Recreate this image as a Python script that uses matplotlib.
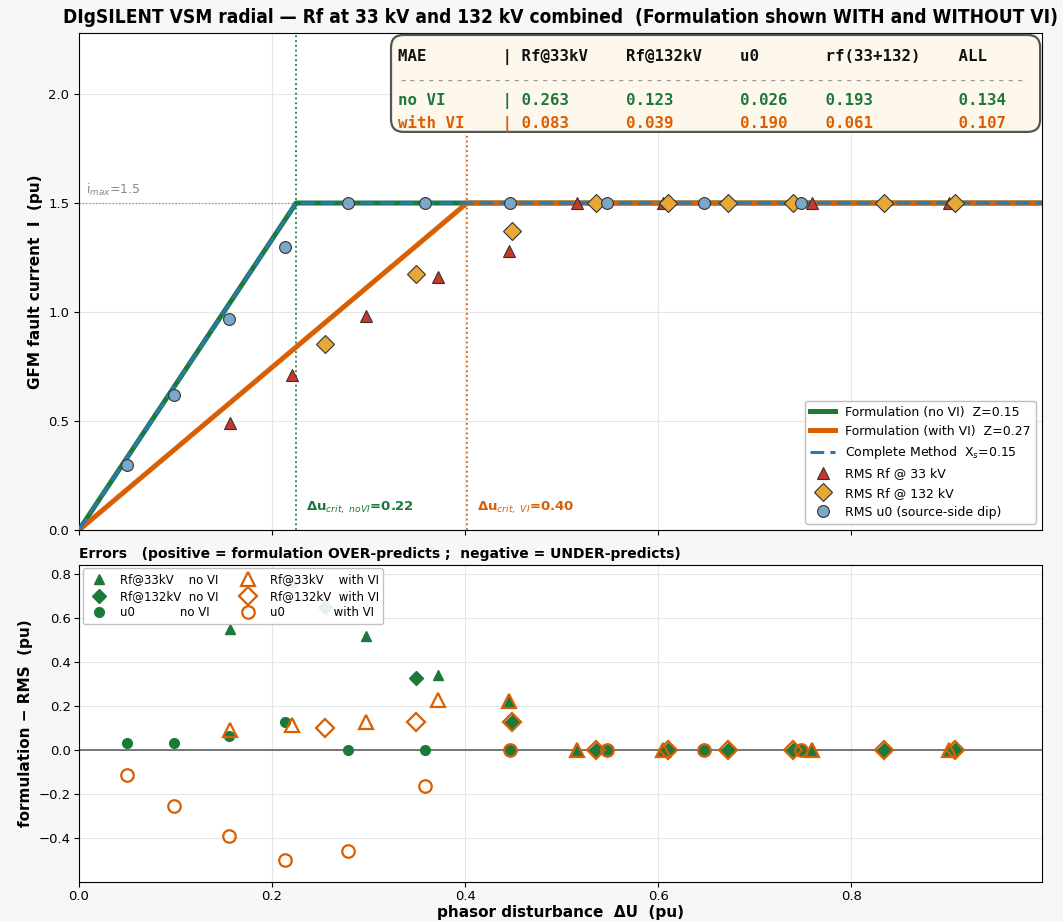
import numpy as np
import matplotlib.pyplot as plt
from matplotlib.patches import FancyBboxPatch

# Formulation parameters
I_MAX = 1.5
Z_NOVI = 0.15
Z_VI = 0.268
XS_COMPLETE = 0.15

# RMS results (disturbance dU, GFM current I)
du_33 = [0.156, 0.221, 0.297, 0.372, 0.445, 0.516, 0.605, 0.759, 0.901]
i_33 = [0.49, 0.712, 0.982, 1.162, 1.28, 1.50, 1.50, 1.50, 1.50]
du_132 = [0.255, 0.349, 0.449, 0.536, 0.610, 0.672, 0.740, 0.834, 0.907]
i_132 = [0.853, 1.174, 1.373, 1.50, 1.50, 1.50, 1.50, 1.50, 1.50]
du_u0 = [0.050, 0.098, 0.155, 0.2135, 0.279, 0.358, 0.447, 0.547, 0.647, 0.748]
i_u0 = [0.300, 0.620, 0.970, 1.297, 1.50, 1.50, 1.50, 1.50, 1.50, 1.50]

# MAE summary
mae_cols = ['Rf@33kV', 'Rf@132kV', 'u0', 'rf(33+132)', 'ALL']
mae_novi = [0.263, 0.123, 0.026, 0.193, 0.134]
mae_vi = [0.083, 0.039, 0.190, 0.061, 0.107]

GREEN = '#1b7a3a'
ORANGE = '#d95f02'
BLUE = '#2a78b0'
RED = '#c8372d'
GOLD = '#e8a838'
STEEL = '#7aa6c8'


def formulation(du, z):
    return np.minimum(np.asarray(du, dtype=float) / z, I_MAX)


xmax = 1.1 * max(du_132)

fig = plt.figure(figsize=(10.63, 9.21), dpi=100, facecolor='#f7f7f7')
ax1 = fig.add_axes([0.0743, 0.4245, 0.906, 0.5397])
ax2 = fig.add_axes([0.0743, 0.0424, 0.906, 0.3442], sharex=ax1)

# ---------------- top panel ----------------
x_nv = np.array([0.0, Z_NOVI * I_MAX, xmax])
x_v = np.array([0.0, Z_VI * I_MAX, xmax])
x_c = np.array([0.0, XS_COMPLETE * I_MAX, xmax])

ax1.axhline(I_MAX, color='#888888', lw=0.9, ls=':', zorder=1)
ax1.plot(x_nv, formulation(x_nv, Z_NOVI), color=GREEN, lw=3.6,
         label=f'Formulation (no VI)  Z={Z_NOVI:.2f}', zorder=3)
ax1.plot(x_v, formulation(x_v, Z_VI), color=ORANGE, lw=3.6,
         label=f'Formulation (with VI)  Z={Z_VI:.2f}', zorder=3)
ax1.plot(x_c, formulation(x_c, XS_COMPLETE), color=BLUE, lw=2.2,
         ls=(0, (4.5, 2.0)), label=f'Complete Method  X$_s$={XS_COMPLETE:.2f}', zorder=4)

ax1.plot(du_33, i_33, '^', ms=9, color=RED, mec='#333333', mew=0.8,
         ls='none', label='RMS Rf @ 33 kV', zorder=5)
ax1.plot(du_132, i_132, 'D', ms=9, color=GOLD, mec='#333333', mew=0.8,
         ls='none', label='RMS Rf @ 132 kV', zorder=5)
ax1.plot(du_u0, i_u0, 'o', ms=8.5, color=STEEL, mec='#333333', mew=0.8,
         ls='none', label='RMS u0 (source-side dip)', zorder=5)

crit_nv = Z_NOVI * I_MAX
crit_v = Z_VI * I_MAX
ax1.axvline(crit_nv, color=GREEN, lw=1.3, ls=':', zorder=2)
ax1.axvline(crit_v, color=ORANGE, lw=1.3, ls=':', zorder=2)
ax1.text(crit_nv + 0.01, 0.10, f'Δu$_{{crit,\\ noVI}}$={crit_nv:.2f}', color=GREEN,
         fontsize=9.5, fontweight='bold', va='center')
ax1.text(crit_v + 0.01, 0.10, f'Δu$_{{crit,\\ VI}}$={crit_v:.2f}', color=ORANGE,
         fontsize=9.5, fontweight='bold', va='center')
ax1.text(0.007, I_MAX + 0.025, f'i$_{{max}}$={I_MAX}', color='#888888', fontsize=9, va='bottom')

ax1.set_xlim(0, xmax)
ax1.set_ylim(0, 2.28)
ax1.set_yticks([0.0, 0.5, 1.0, 1.5, 2.0])
ax1.set_ylabel('GFM fault current  I  (pu)', fontsize=11, fontweight='bold')
ax1.set_title('DIgSILENT VSM radial — Rf at 33 kV and 132 kV combined  '
              '(Formulation shown WITH and WITHOUT VI)',
              fontsize=13.7, fontweight='bold', pad=7, fontstretch='condensed')
ax1.grid(True, color='#e6e6e6', lw=0.8)
ax1.set_axisbelow(True)
ax1.tick_params(labelbottom=False, labelsize=9.5)
ax1.legend(loc='lower right', fontsize=9, framealpha=0.95, edgecolor='#bbbbbb')

# MAE table box
box = FancyBboxPatch((0.324, 0.801), 0.674, 0.195, transform=ax1.transAxes,
                     boxstyle='round,pad=0,rounding_size=0.013', mutation_aspect=1.94,
                     fc='#fdf7ec', ec='#555555', lw=1.6, zorder=6)
ax1.add_patch(box)
widths = [11, 12, 9, 14, 3]
header = f"{'MAE':<11}| " + ''.join(c.ljust(w) for c, w in zip(mae_cols, widths))
row_nv = f"{'no VI':<11}| " + ''.join(f'{v:.3f}'.ljust(w) for v, w in zip(mae_novi, widths))
row_v = f"{'with VI':<11}| " + ''.join(f'{v:.3f}'.ljust(w) for v, w in zip(mae_vi, widths))
tx = 0.331
mono = dict(family='DejaVu Sans Mono', fontsize=11.3, fontweight='bold',
            va='center', ha='left', transform=ax1.transAxes, zorder=7)
ax1.text(tx, 0.952, header, color='#111111', **mono)
ax1.text(tx, 0.905, '-' * 66, color='#9a9a9a', family='DejaVu Sans Mono', fontsize=11.3,
         va='center', ha='left', transform=ax1.transAxes, zorder=7)
ax1.text(tx, 0.863, row_nv, color=GREEN, **mono)
ax1.text(tx, 0.817, row_v, color=ORANGE, **mono)

# ---------------- bottom panel: errors ----------------
err_33_nv = formulation(du_33, Z_NOVI) - np.array(i_33)
err_132_nv = formulation(du_132, Z_NOVI) - np.array(i_132)
err_u0_nv = formulation(du_u0, Z_NOVI) - np.array(i_u0)
err_33_v = formulation(du_33, Z_VI) - np.array(i_33)
err_132_v = formulation(du_132, Z_VI) - np.array(i_132)
err_u0_v = formulation(du_u0, Z_VI) - np.array(i_u0)

ax2.axhline(0, color='#555555', lw=1.1, zorder=1)
h1, = ax2.plot(du_33, err_33_nv, '^', ms=7.5, color=GREEN, ls='none',
               label='Rf@33kV    no VI', zorder=3)
h2, = ax2.plot(du_132, err_132_nv, 'D', ms=7.5, color=GREEN, ls='none',
               label='Rf@132kV  no VI', zorder=3)
h3, = ax2.plot(du_u0, err_u0_nv, 'o', ms=7, color=GREEN, ls='none',
               label='u0            no VI', zorder=3)
h4, = ax2.plot(du_33, err_33_v, '^', ms=10, mfc='none', mec=ORANGE, mew=1.6, ls='none',
               label='Rf@33kV    with VI', zorder=4)
h5, = ax2.plot(du_132, err_132_v, 'D', ms=9, mfc='none', mec=ORANGE, mew=1.6, ls='none',
               label='Rf@132kV  with VI', zorder=4)
h6, = ax2.plot(du_u0, err_u0_v, 'o', ms=9, mfc='none', mec=ORANGE, mew=1.6, ls='none',
               label='u0             with VI', zorder=4)

ax2.set_ylim(-0.6, 0.84)
ax2.set_yticks([-0.4, -0.2, 0.0, 0.2, 0.4, 0.6, 0.8])
ax2.set_xticks([0.0, 0.2, 0.4, 0.6, 0.8])
ax2.set_xlabel('phasor disturbance  ΔU  (pu)', fontsize=11, fontweight='bold', labelpad=1)
ax2.set_ylabel('formulation − RMS  (pu)', fontsize=11, fontweight='bold')
ax2.set_title('Errors   (positive = formulation OVER-predicts ;  negative = UNDER-predicts)',
              loc='left', fontsize=10, fontweight='bold', pad=5)
ax2.grid(True, color='#e6e6e6', lw=0.8)
ax2.set_axisbelow(True)
ax2.tick_params(labelsize=9.5, pad=2.5)
ax2.legend(handles=[h1, h2, h3, h4, h5, h6], loc='upper left', ncol=2, fontsize=8.5,
           framealpha=0.9, edgecolor='#bbbbbb', handletextpad=0.8, columnspacing=1.5,
           borderaxespad=0.3, labelspacing=0.3)

fig.savefig('out.png', dpi=100, facecolor=fig.get_facecolor())
